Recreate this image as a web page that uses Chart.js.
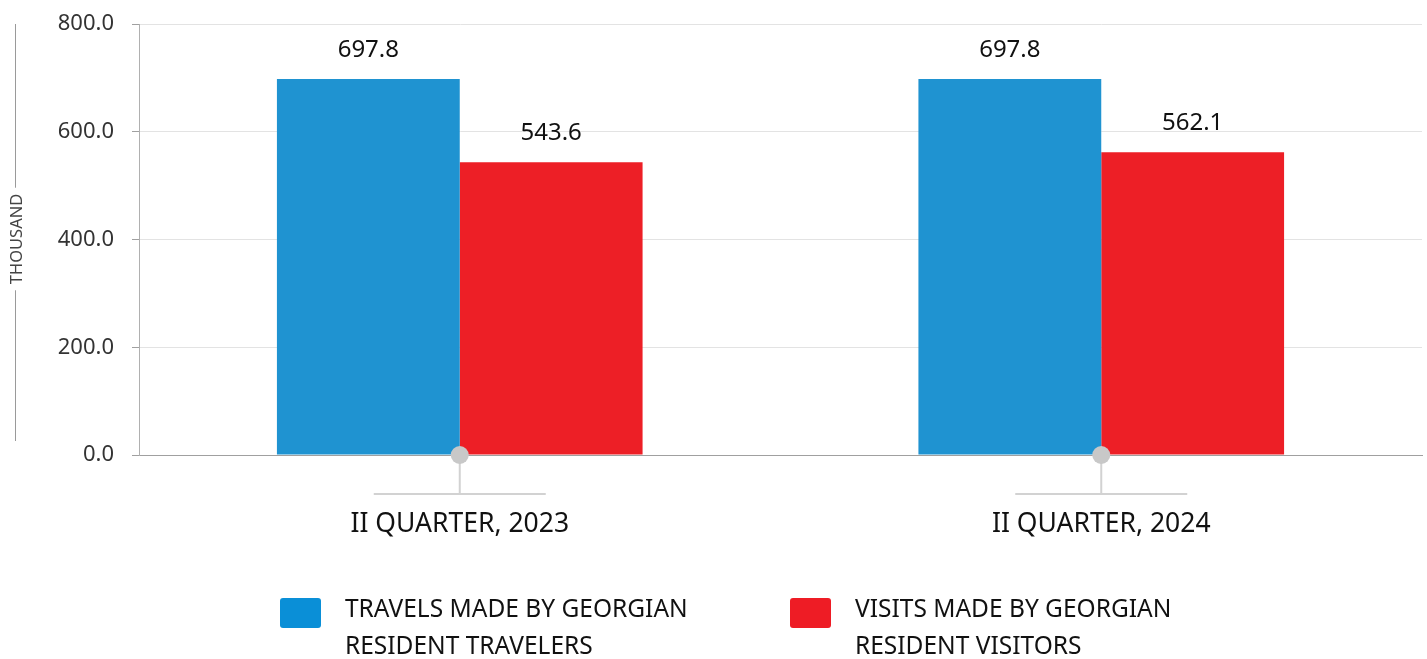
<!DOCTYPE html>
<html lang="en">
<head>
<meta charset="UTF-8">
<title>Travels and visits</title>
<script src="https://cdn.jsdelivr.net/npm/chart.js"></script>
<style>
  html, body { margin: 0; padding: 0; background: #fff; }
  #wrap { position: relative; width: 1427px; height: 659px; }
</style>
</head>
<body>
<div id="wrap"><canvas id="chart" width="1427" height="659"></canvas></div>
<script>
// data
const categories = ["II QUARTER, 2023", "II QUARTER, 2024"];
const seriesNames = [
  ["TRAVELS MADE BY GEORGIAN", "RESIDENT TRAVELERS"],
  ["VISITS MADE BY GEORGIAN", "RESIDENT VISITORS"]
];
const travels = [697.8, 697.8];
const visits = [543.6, 562.1];
const yTicks = [0, 200, 400, 600, 800];
const colors = ["#1f93d1", "#ed1f26"];
const legendColors = ["#0a8fd7", "#ee1c25"];
const yTitle = "THOUSAND";

const FONT = "'Noto Sans', sans-serif";

// labels above bars
const valueLabels = {
  id: "valueLabels",
  afterDatasetsDraw(chart) {
    const ctx = chart.ctx;
    ctx.save();
    ctx.font = "24px " + FONT;
    ctx.fillStyle = "#111";
    ctx.textAlign = "center";
    ctx.textBaseline = "middle";
    chart.data.datasets.forEach((ds, i) => {
      chart.getDatasetMeta(i).data.forEach((bar, j) => {
        ctx.fillText(ds.data[j].toFixed(1), bar.x, bar.y - 29);
      });
    });
    ctx.restore();
  }
};

// dots + connector lines under the categories, axis title, legend
const decorations = {
  id: "decorations",
  afterDraw(chart) {
    const ctx = chart.ctx;
    const x = chart.scales.x, y = chart.scales.y;
    const base = y.getPixelForValue(0);
    ctx.save();
    categories.forEach((c, i) => {
      const cx = x.getPixelForValue(i);
      ctx.strokeStyle = "#d2d2d2";
      ctx.lineWidth = 2;
      ctx.beginPath();
      ctx.moveTo(cx, base);
      ctx.lineTo(cx, base + 39);
      ctx.moveTo(cx - 86, base + 39);
      ctx.lineTo(cx + 86, base + 39);
      ctx.stroke();
      ctx.fillStyle = "#c8c8c8";
      ctx.beginPath();
      ctx.arc(cx, base, 9, 0, Math.PI * 2);
      ctx.fill();
    });

    // y title with lines
    const ty = 239, tx = 17;
    ctx.font = "16.5px " + FONT;
    ctx.fillStyle = "#444";
    ctx.strokeStyle = "#9a9a9a";
    ctx.lineWidth = 1;
    const w = ctx.measureText(yTitle).width;
    ctx.beginPath();
    ctx.moveTo(tx - 1.5, y.top);
    ctx.lineTo(tx - 1.5, ty - w / 2 - 6);
    ctx.moveTo(tx - 1.5, ty + w / 2 + 6);
    ctx.lineTo(tx - 1.5, base - 14);
    ctx.stroke();
    ctx.translate(tx, ty);
    ctx.rotate(-Math.PI / 2);
    ctx.textAlign = "center";
    ctx.textBaseline = "middle";
    ctx.fillText(yTitle, 0, 0);
    ctx.restore();

    // legend
    ctx.save();
    const lx = [280, 790];
    seriesNames.forEach((lines, i) => {
      ctx.fillStyle = legendColors[i];
      ctx.beginPath();
      ctx.roundRect(lx[i], 598, 41, 30, 3);
      ctx.fill();
      ctx.fillStyle = "#111";
      ctx.font = "24.5px " + FONT;
      ctx.textAlign = "left";
      ctx.textBaseline = "middle";
      lines.forEach((t, k) => ctx.fillText(t, lx[i] + 65, 610 + k * 37));
    });
    ctx.restore();
  }
};

new Chart(document.getElementById("chart"), {
  type: "bar",
  data: {
    labels: categories,
    datasets: [
      { label: seriesNames[0].join(" "), data: travels, backgroundColor: colors[0] },
      { label: seriesNames[1].join(" "), data: visits, backgroundColor: colors[1] }
    ]
  },
  options: {
    responsive: false,
    animation: false,
    layout: { padding: { top: 24, right: 5, left: 0, bottom: 0 } },
    datasets: { bar: { categoryPercentage: 0.57, barPercentage: 1 } },
    plugins: { legend: { display: false }, tooltip: { enabled: false } },
    scales: {
      x: {
        grid: { display: false },
        border: { color: "#a0a0a0", width: 1 },
        ticks: { font: { family: FONT, size: 26.5 }, color: "#111", padding: 46 },
        afterFit(s) { s.height = 204; }
      },
      y: {
        min: 0, max: 800,
        afterBuildTicks(s) { s.ticks = yTicks.map(v => ({ value: v })); },
        grid: {
          color: c => c.tick && c.tick.value === 0 ? "#a0a0a0" : "#e3e3e3",
          tickLength: 7,
          tickColor: "#a0a0a0"
        },
        border: { color: "#b0b0b0", width: 1 },
        ticks: {
          font: { family: FONT, size: 22 },
          color: "#333",
          padding: 18,
          callback: v => v.toFixed(1)
        },
        afterFit(s) { s.width = 139; s.paddingTop = 0; s.paddingBottom = 0; }
      }
    }
  },
  plugins: [valueLabels, decorations]
});
</script>
</body>
</html>
